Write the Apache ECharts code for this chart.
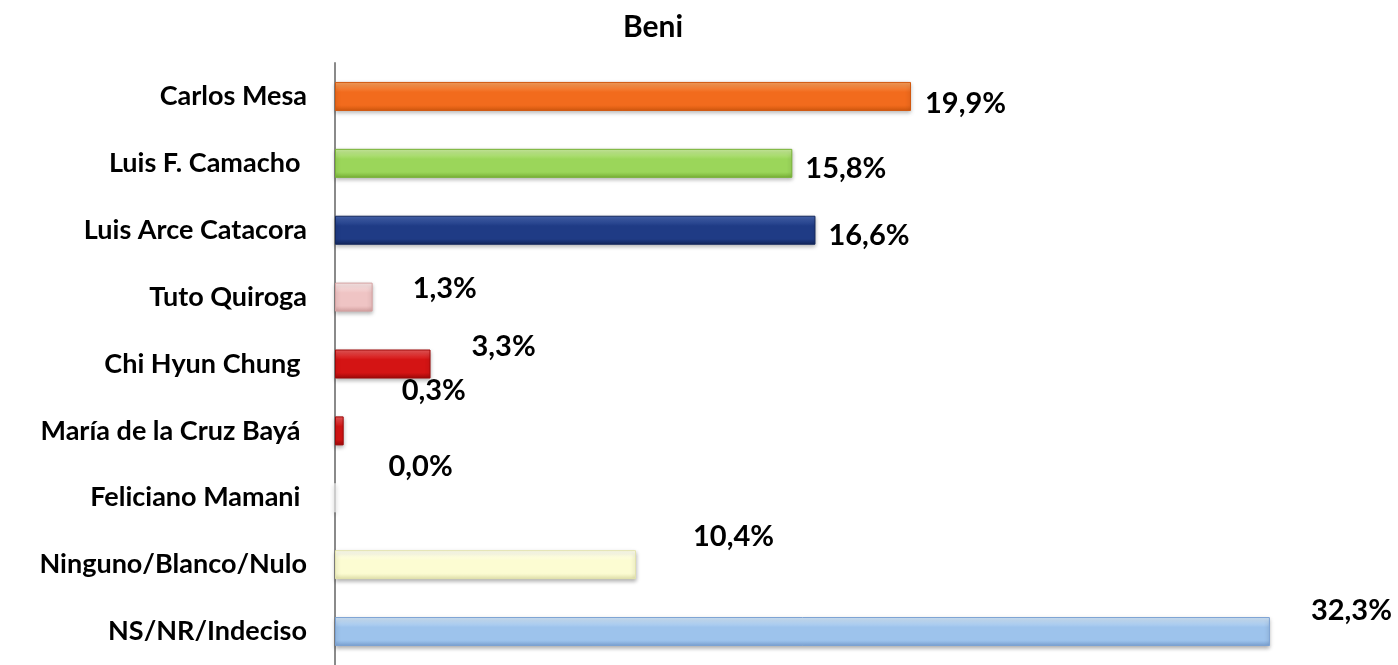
<!DOCTYPE html>
<html>
<head>
<meta charset="utf-8">
<script src="https://cdn.jsdelivr.net/npm/echarts@6/dist/echarts.min.js"></script>
<style>
  html, body { margin: 0; padding: 0; background: #fff; }
  #chart { width: 1398px; height: 665px; }
</style>
</head>
<body>
<div id="chart"></div>
<script>
const categories = ['Carlos Mesa', 'Luis F. Camacho ', 'Luis Arce Catacora', 'Tuto Quiroga', 'Chi Hyun Chung ',
  'María de la Cruz Bayá ', 'Feliciano Mamani ', 'Ninguno/Blanco/Nulo', 'NS/NR/Indeciso'];
const values = [19.9, 15.8, 16.6, 1.3, 3.3, 0.3, 0.0, 10.4, 32.3];
// top / middle / bottom shade of each bar
const barColors = [
  ['#F9A25E', '#F26B1D', '#D2590F'],
  ['#CDEFA0', '#9BD65A', '#78B236'],
  ['#4766B0', '#1F3B85', '#13275C'],
  ['#FCEBEB', '#EFC4C4', '#D6A2A2'],
  ['#EC5A5A', '#D41414', '#9E0909'],
  ['#EC5A5A', '#D41414', '#9E0909'],
  ['#FFFFFF', '#FFFFFF', '#E6E6E6'],
  ['#FFFFF4', '#FCFCD2', '#E4E4AE'],
  ['#D6E9FB', '#9DC3EC', '#7BA2D3']
];
// where each value label sits, relative to the bar end
const labelOffsets = [[14, 7], [13, 5], [13, 5], [40, -8], [41, -17], [58, -40], [53, -31], [57, -28], [41, -21]];

const chart = echarts.init(document.getElementById('chart'));
const font = 'Lato, "Open Sans", sans-serif';

const option = {
  animation: false,
  title: {
    text: 'Beni',
    left: 648,
    textAlign: 'center',
    top: 7,
    textStyle: { fontFamily: font, fontWeight: 'bold', fontSize: 30, color: '#000' }
  },
  grid: { left: 335, right: 21, top: 63, height: 607 },
  xAxis: {
    type: 'value',
    min: 0,
    max: 36,
    show: false
  },
  yAxis: {
    type: 'category',
    inverse: true,
    data: categories,
    axisLine: { show: true, lineStyle: { color: '#8a8a8a', width: 2 } },
    axisTick: { show: false },
    axisLabel: {
      margin: 28,
      fontFamily: font,
      fontWeight: 'bold',
      fontSize: 27,
      color: '#000'
    }
  },
  series: [{
    type: 'bar',
    barWidth: 29,
    data: values.map((v, i) => ({
      value: v,
      itemStyle: {
        color: {
          type: 'linear', x: 0, y: 0, x2: 0, y2: 1,
          colorStops: [
            { offset: 0, color: barColors[i][0] },
            { offset: 0.35, color: barColors[i][1] },
            { offset: 0.8, color: barColors[i][1] },
            { offset: 1, color: barColors[i][2] }
          ]
        },
        borderColor: barColors[i][2],
        borderWidth: 1,
        shadowColor: 'rgba(0,0,0,0.3)',
        shadowBlur: 4,
        shadowOffsetY: 2
      },
      label: {
        show: true,
        position: 'right',
        distance: 0,
        offset: labelOffsets[i],
        formatter: v.toFixed(1).replace('.', ',') + '%',
        fontFamily: font,
        fontWeight: 'bold',
        fontSize: 29,
        color: '#000'
      }
    }))
  }]
};

chart.setOption(option);
window.addEventListener('resize', () => {
  chart.resize();
});
</script>
</body>
</html>
